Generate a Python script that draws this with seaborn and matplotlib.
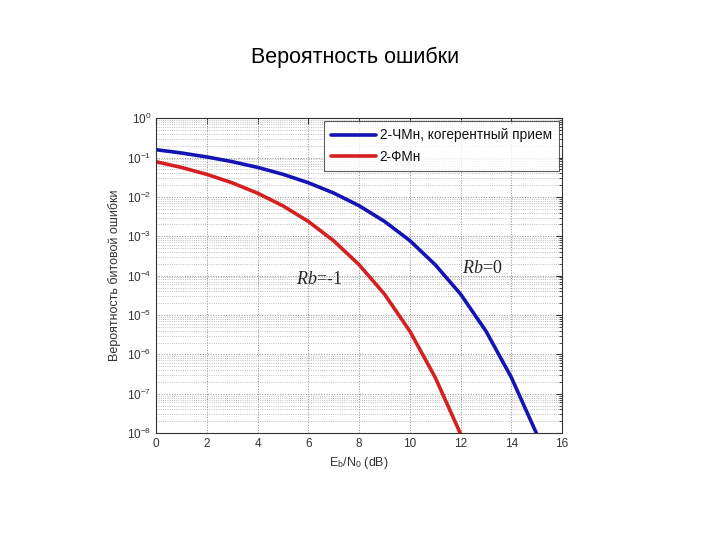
import matplotlib
matplotlib.use('Agg')
import matplotlib.pyplot as plt
import matplotlib.ticker as mticker
import numpy as np
import pandas as pd
import seaborn as sns

# values
ebn0_fsk = [0, 1, 2, 3, 4, 5, 6, 7, 8, 9, 10, 11, 12, 13, 14, 15]
ber_fsk = [0.159, 0.131, 0.104, 0.079, 0.0565, 0.0377, 0.023, 0.0126,
           0.006, 0.0024, 7.8e-4, 1.9e-4, 3.4e-5, 3.9e-6, 2.6e-7, 9.5e-9]
ebn0_psk = [0, 1, 2, 3, 4, 5, 6, 7, 8, 9, 10, 11, 12]
ber_psk = [0.0786, 0.0563, 0.0375, 0.0229, 0.0125, 0.00595, 0.00239,
           7.7e-4, 1.9e-4, 3.4e-5, 3.9e-6, 2.6e-7, 9.5e-9]
labels = ['2-ЧМн, когерентный прием', '2-ФМн']

df = pd.concat([
    pd.DataFrame({'x': ebn0_fsk, 'y': ber_fsk, 'mod': labels[0]}),
    pd.DataFrame({'x': ebn0_psk, 'y': ber_psk, 'mod': labels[1]}),
])

sns.set_style('white')
plt.rcParams['font.family'] = ['Liberation Sans', 'DejaVu Sans']
plt.rcParams['axes.unicode_minus'] = False
plt.rcParams['mathtext.fontset'] = 'custom'
plt.rcParams['mathtext.it'] = 'Liberation Serif:italic'
plt.rcParams['mathtext.rm'] = 'Liberation Sans'

fig = plt.figure(figsize=(7.2, 5.4), dpi=100)
ax = fig.add_axes([0.2167, 0.198, 0.564, 0.583])

sns.lineplot(data=df, x='x', y='y', hue='mod', ax=ax,
             palette={labels[0]: '#1414b4', labels[1]: '#d42020'},
             linewidth=2.6, legend=True)

ax.set_yscale('log')
ax.set_xlim(0, 16)
ax.set_ylim(1e-8, 1)
ax.set_xticks(range(0, 17, 2))
ax.yaxis.set_major_locator(mticker.LogLocator(base=10, numticks=20))
ax.yaxis.set_minor_locator(mticker.LogLocator(base=10, subs=np.arange(2, 10), numticks=20))
ax.yaxis.set_minor_formatter(mticker.NullFormatter())

ax.grid(True, which='major', linestyle=':', color='#888888', linewidth=0.7)
ax.grid(True, which='minor', axis='y', linestyle=':', color='#aaaaaa', linewidth=0.6)
ax.tick_params(which='both', direction='in', top=True, right=True,
               labelsize=8.5, colors='#333333', length=4)
ax.tick_params(which='minor', length=2)
for s in ax.spines.values():
    s.set_color('#333333')
    s.set_linewidth(0.8)

ax.set_xlabel(r'E$_\mathregular{b}$/N$_\mathregular{0}$ (dB)', fontsize=9, color='#333333')
ax.set_ylabel('Вероятность битовой ошибки', fontsize=9, color='#333333')

leg = ax.legend(loc='upper right', fontsize=9.8, frameon=True, fancybox=False,
                edgecolor='#333333', handlelength=3.3, handletextpad=0.25,
                borderaxespad=0.2, labelspacing=0.55, borderpad=0.55)
leg.get_frame().set_linewidth(0.8)
for t in leg.get_texts():
    t.set_color('#111111')

ax.text(5.5, 10**-4.1, r'$\it{Rb}$=-1', fontsize=13, family='Liberation Serif',
        va='center', ha='left')
ax.text(12.05, 10**-3.83, r'$\it{Rb}$=0', fontsize=13, family='Liberation Serif',
        va='center', ha='left')

fig.text(0.493, 0.893, 'Вероятность ошибки', fontsize=15.5, ha='center', va='center',
         color='black')

fig.savefig('out.png', dpi=100)
